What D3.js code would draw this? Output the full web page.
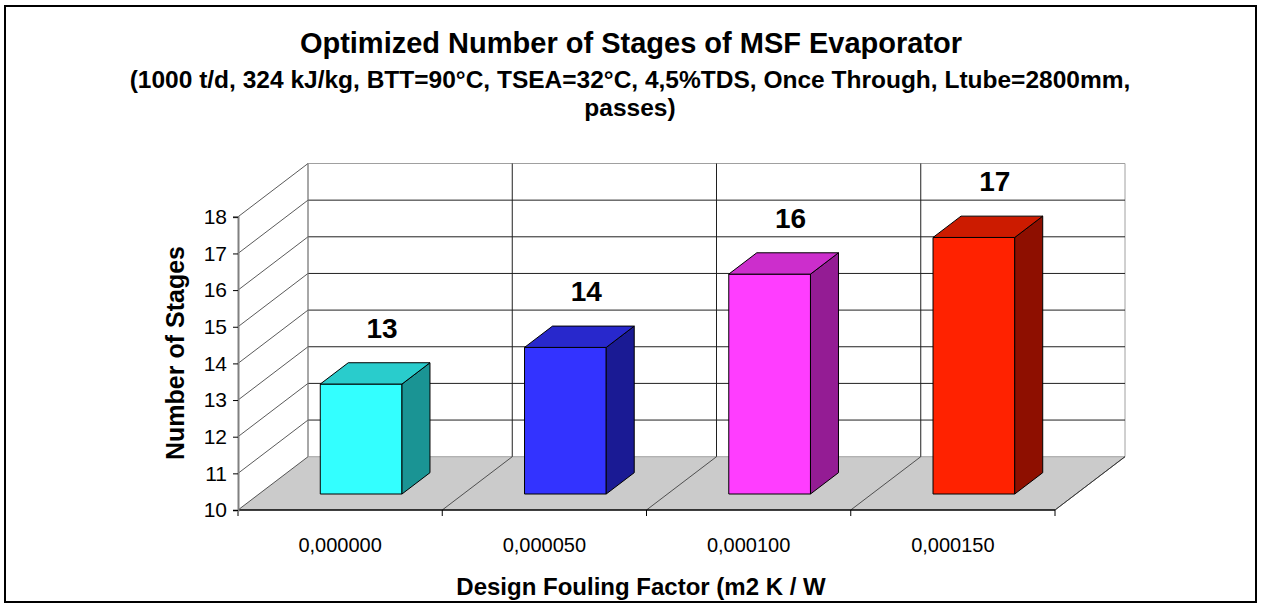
<!DOCTYPE html>
<html>
<head>
<meta charset="utf-8">
<script src="https://cdn.jsdelivr.net/npm/d3@7"></script>
<style>
  html, body { margin: 0; padding: 0; background: #fff; }
  svg { display: block; }
  text { font-family: Arial, "Liberation Sans", sans-serif; fill: #000; }
</style>
</head>
<body>
<svg id="chart" width="1263" height="608"></svg>
<script>
// Chart data
const categories = ["0,000000", "0,000050", "0,000100", "0,000150"];
const stages = [13, 14, 16, 17];
const yTicks = [10, 11, 12, 13, 14, 15, 16, 17, 18];
const faceColors = ["#33FFFF", "#3333FF", "#FF3DFF", "#FF2200"];
const topColors  = ["#29CCCC", "#2828CC", "#CC2ECC", "#CC1B00"];
const sideColors = ["#1A9494", "#1A1A94", "#941C94", "#8E0F00"];

const titleText = "Optimized Number of Stages of MSF Evaporator";
const subtitleLines = [
  "(1000 t/d, 324 kJ/kg, BTT=90°C, TSEA=32°C, 4,5%TDS, Once Through, Ltube=2800mm,",
  "passes)"
];
const xTitle = "Design Fouling Factor (m2 K / W";
const yTitle = "Number of Stages";

// Layout of the 3D box
const W = 1263, H = 608;
const ox = 238;                 // front-left corner of the floor
const frontWidth = 817;         // length of the front category axis
const depthDx = 70, depthDy = -53.3;  // offset from front plane to back wall
const barFront = 0.3, barBack = 0.7;  // depth range occupied by the bars

const svg = d3.select("#chart");

// Scales
const x = d3.scaleBand().domain(categories).range([0, frontWidth])
  .paddingInner(0.6).paddingOuter(0.3);
const y = d3.scaleLinear().domain([10, 18]).range([510, 216.8]);
const depth = d3.scaleLinear().domain([0, 1]).range([0, 1]);

// project (horizontal offset on front axis, value, depth) to screen
function P(px, v, d) {
  const t = depth(d);
  return [ox + px + t * depthDx, y(v) + t * depthDy];
}
const poly = pts => "M" + pts.map(p => p.join(",")).join("L") + "Z";
const line = (a, b) => "M" + a.join(",") + "L" + b.join(",");

// Outer frame
svg.append("rect").attr("x", 5).attr("y", 6).attr("width", 1251).attr("height", 596)
  .attr("fill", "#fff").attr("stroke", "#000").attr("stroke-width", 2);

// Titles
svg.append("text").attr("x", 631).attr("y", 53).attr("text-anchor", "middle")
  .style("font-size", "29px").style("font-weight", "bold").text(titleText);
svg.selectAll("text.sub").data(subtitleLines).join("text").attr("class", "sub")
  .attr("x", 630).attr("y", (d, i) => 88 + i * 28).attr("text-anchor", "middle")
  .style("font-size", "24.5px").style("font-weight", "bold").text(d => d);

const g = svg.append("g");
const vMin = y.domain()[0], vMax = y.domain()[1];
const step = x.step();
const bounds = d3.range(categories.length + 1).map(i => x(categories[0]) - x.paddingOuter() * step + i * step);

// Floor
g.append("path")
  .attr("d", poly([P(0, vMin, 0), P(frontWidth, vMin, 0), P(frontWidth, vMin, 1), P(0, vMin, 1)]))
  .attr("fill", "#CBCBCB").attr("stroke", "none");

// Back wall
g.append("path")
  .attr("d", poly([P(0, vMin, 1), P(frontWidth, vMin, 1), P(frontWidth, vMax, 1), P(0, vMax, 1)]))
  .attr("fill", "#fff").attr("stroke", "#A0A0A0").attr("stroke-width", 1);

// Horizontal gridlines on back wall and side wall
yTicks.forEach(v => {
  if (v !== vMin && v !== vMax) {
    g.append("path").attr("d", line(P(0, v, 1), P(frontWidth, v, 1)))
      .attr("stroke", "#202020").attr("stroke-width", 1).attr("fill", "none");
  }
  g.append("path").attr("d", line(P(0, v, 0), P(0, v, 1)))
    .attr("stroke", "#303030").attr("stroke-width", 0.8).attr("fill", "none");
});

// Vertical category separators on the back wall and floor
bounds.forEach((bx, i) => {
  if (i > 0 && i < bounds.length - 1) {
    g.append("path").attr("d", line(P(bx, vMin, 1), P(bx, vMax, 1)))
      .attr("stroke", "#202020").attr("stroke-width", 1).attr("fill", "none");
  }
  if (i > 0) {
    g.append("path").attr("d", line(P(bx, vMin, 0), P(bx, vMin, 1)))
      .attr("stroke", "#303030").attr("stroke-width", 0.8).attr("fill", "none");
  }
});
// back-left edge of the wall
g.append("path").attr("d", line(P(0, vMin, 1), P(0, vMax, 1)))
  .attr("stroke", "#808080").attr("stroke-width", 1).attr("fill", "none");

// Bars
const bars = g.selectAll("g.bar").data(stages).join("g").attr("class", "bar");
bars.each(function (v, i) {
  const b = d3.select(this);
  const xl = x(categories[i]), xr = xl + x.bandwidth();
  // front face
  b.append("path").attr("d", poly([P(xl, vMin, barFront), P(xr, vMin, barFront), P(xr, v, barFront), P(xl, v, barFront)]))
    .attr("fill", faceColors[i]).attr("stroke", "#000").attr("stroke-width", 1);
  // side face
  b.append("path").attr("d", poly([P(xr, vMin, barFront), P(xr, vMin, barBack), P(xr, v, barBack), P(xr, v, barFront)]))
    .attr("fill", sideColors[i]).attr("stroke", "#000").attr("stroke-width", 1);
  // top face
  b.append("path").attr("d", poly([P(xl, v, barFront), P(xr, v, barFront), P(xr, v, barBack), P(xl, v, barBack)]))
    .attr("fill", topColors[i]).attr("stroke", "#000").attr("stroke-width", 1);
  // value label
  const lp = P((xl + xr) / 2, v, 0.6);
  const top = P(xl, v, barBack)[1];
  b.append("text").attr("x", lp[0]).attr("y", top - 25).attr("text-anchor", "middle")
    .style("font-size", "28px").style("font-weight", "bold").text(v);
});

// Front x axis line and boundary ticks
g.append("path").attr("d", line(P(0, vMin, 0), P(frontWidth, vMin, 0)))
  .attr("stroke", "#000").attr("stroke-width", 1.5).attr("fill", "none");
bounds.forEach(bx => {
  const p = P(bx, vMin, 0);
  g.append("path").attr("d", line(p, [p[0], p[1] + 6]))
    .attr("stroke", "#000").attr("stroke-width", 1).attr("fill", "none");
});
// floor right edge
g.append("path").attr("d", line(P(frontWidth, vMin, 0), P(frontWidth, vMin, 1)))
  .attr("stroke", "#303030").attr("stroke-width", 0.8).attr("fill", "none");

// Category labels
const xAxis = svg.append("g").attr("transform", `translate(${ox},${y(vMin)})`)
  .call(d3.axisBottom(x).tickSize(0).tickPadding(28));
xAxis.select(".domain").remove();
xAxis.selectAll("text").style("font-size", "20px").style("font-family", "Arial, 'Liberation Sans', sans-serif");

// Y axis (front)
const yAxis = svg.append("g").attr("transform", `translate(${ox},0)`)
  .call(d3.axisLeft(y).tickValues(yTicks).tickSize(5).tickPadding(6).tickFormat(d3.format("d")));
yAxis.select(".domain").attr("stroke", "#808080").attr("stroke-width", 2);
yAxis.selectAll(".tick line").attr("stroke", "#000");
yAxis.selectAll("text").style("font-size", "21px").style("font-family", "Arial, 'Liberation Sans', sans-serif");

// Axis titles
svg.append("text").attr("x", 641).attr("y", 595).attr("text-anchor", "middle")
  .style("font-size", "24px").style("font-weight", "bold").text(xTitle);
svg.append("text").attr("transform", "translate(184,353) rotate(-90)").attr("text-anchor", "middle")
  .style("font-size", "25px").style("font-weight", "bold").text(yTitle);
</script>
</body>
</html>
